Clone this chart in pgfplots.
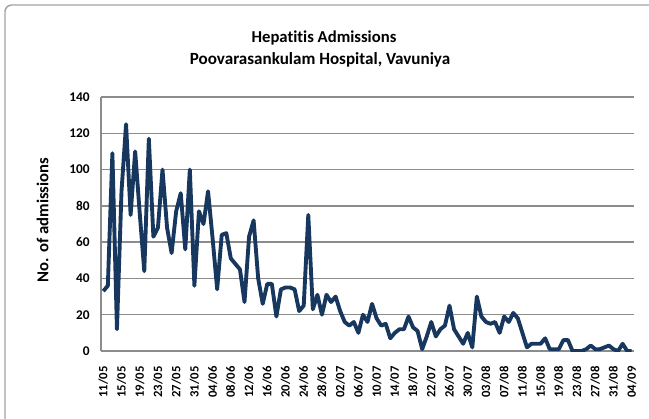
\documentclass[border=0pt]{standalone}
\usepackage{pgfplots}
\pgfplotsset{compat=1.18}
\usepackage{fontspec}
\setmainfont{Carlito}[Ligatures=NoCommon]
\definecolor{linecol}{HTML}{17375E}
\definecolor{gridcol}{HTML}{8C8C8C}
\begin{document}
\begin{tikzpicture}
\useasboundingbox (0,0) rectangle (486.75pt,313.5pt);
\clip (0,0) rectangle (486.75pt,313.5pt);
\draw[gridcol!80, line width=1.1pt, rounded corners=5pt] (3.75pt,-30pt) -- (3.75pt,309.75pt) -- (520pt,309.75pt);
\node[font=\bfseries\fontsize{12.5}{15}\selectfont] at (243pt,285pt) {Hepatitis Admissions};
\node[font=\bfseries\fontsize{12.8}{15}\selectfont] at (240pt,268.5pt) {Poovarasankulam Hospital, Vavuniya};
\node[rotate=90, font=\bfseries\fontsize{12.5}{14}\selectfont] at (32pt,148.5pt) {No. of admissions};
\begin{axis}[
  at={(75.75pt,50.25pt)}, anchor=south west,
  scale only axis, width=399.75pt, height=190.5pt,
  xmin=-0.5, xmax=116.5, ymin=0, ymax=140,
  ytick={0,20,...,140},
  xtick={0,4,...,116},
  xticklabels={11/05,15/05,19/05,23/05,27/05,31/05,04/06,08/06,12/06,16/06,20/06,24/06,28/06,02/07,06/07,10/07,14/07,18/07,22/07,26/07,30/07,03/08,07/08,11/08,15/08,19/08,23/08,27/08,31/08,04/09},
  axis x line*=bottom, axis y line*=left,
  axis line style={-, gridcol, line width=1.1pt},
  ymajorgrids, grid style={gridcol, line width=1.1pt},
  tick style={draw=none},
  /pgf/number format/assume math mode=true,
  yticklabel style={font=\bfseries\fontsize{10}{12}\selectfont},
  xticklabel style={rotate=90, anchor=east, font=\bfseries\fontsize{9.5}{11}\selectfont},
  yticklabel shift=5pt,
  xticklabel shift=8pt,
]
\addplot[linecol, line width=2.9pt, line join=round, mark=none] table {
x y
0 33
1 36
2 109
3 12
4 88
5 125
6 75
7 110
8 76
9 44
10 117
11 63
12 68
13 100
14 68
15 54
16 77
17 87
18 56
19 100
20 36
21 77
22 70
23 88
24 62
25 34
26 64
27 65
28 51
29 48
30 45
31 27
32 63
33 72
34 40
35 26
36 37
37 37
38 19
39 34
40 35
41 35
42 34
43 22
44 25
45 75
46 23
47 31
48 20
49 31
50 27
51 30
52 22
53 16
54 14
55 16
56 10
57 20
58 16
59 26
60 18
61 14
62 15
63 7
64 10
65 12
66 12
67 19
68 13
69 11
70 1
71 8
72 16
73 8
74 12
75 14
76 25
77 12
78 8
79 4
80 10
81 2
82 30
83 19
84 16
85 15
86 16
87 10
88 19
89 16
90 21
91 18
92 10
93 2
94 4
95 4
96 4
97 7
98 1
99 1
100 1
101 6
102 6
103 0
104 0
105 0
106 1
107 3
108 1
109 1
110 2
111 3
112 1
113 0
114 4
115 0
116 0
};
\end{axis}
\end{tikzpicture}
\end{document}
